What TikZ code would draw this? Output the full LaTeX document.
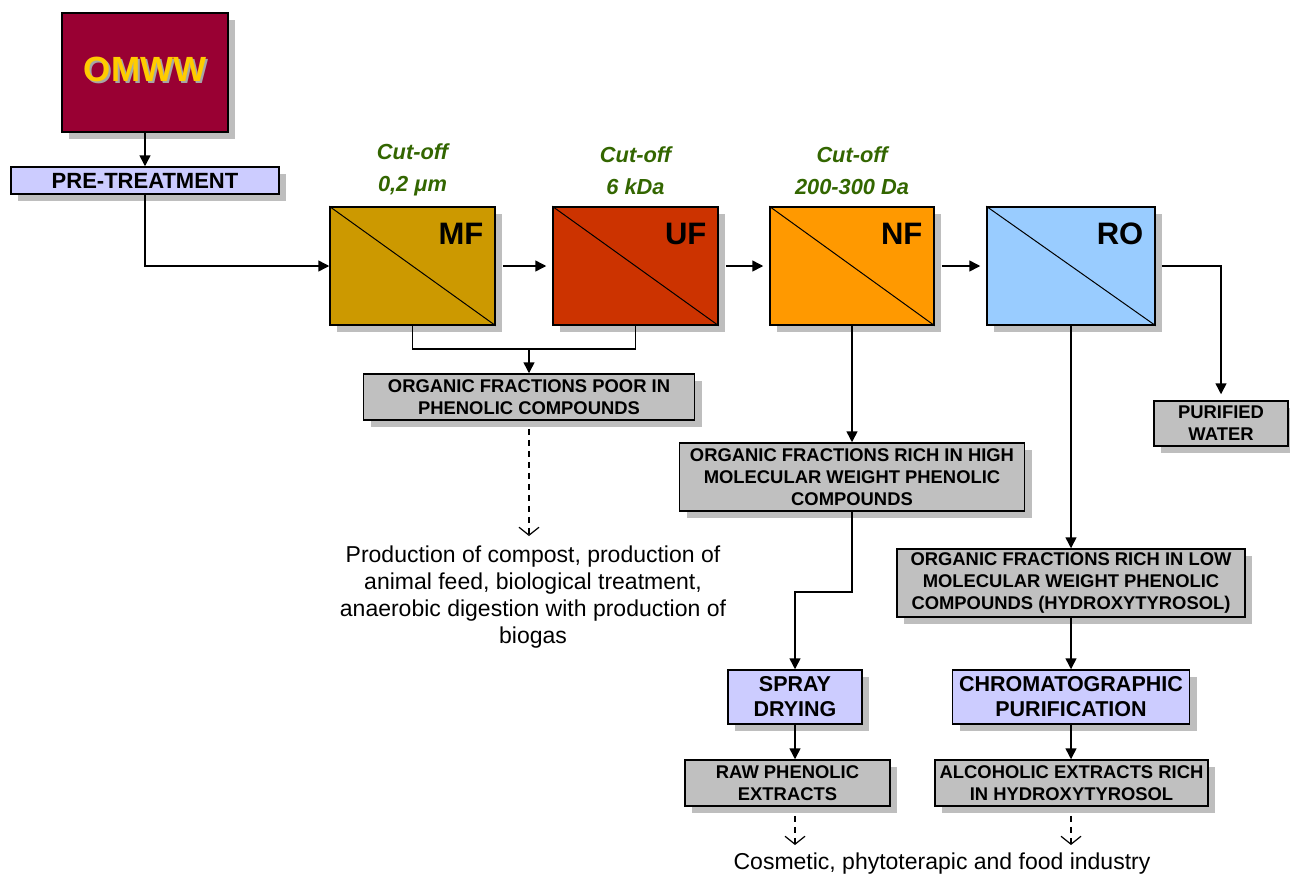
\documentclass[tikz,border=0pt]{standalone}
\usepackage[usenames,dvipsnames]{xcolor}
\usepackage{fontspec}
\setmainfont{Liberation Sans}
\usepackage{tikz}
\usetikzlibrary{shadows}
\usetikzlibrary{arrows.meta}

\begin{document}
\begin{tikzpicture}[x=0.5pt,y=-0.5pt,
  panel/.style={draw, line width=0.75pt, inner sep=0pt, align=center, drop shadow={shadow xshift=3.5pt, shadow yshift=-3.5pt, fill=shadowGrey, opacity=1}},
  greybox/.style={panel, fill=boxGrey, font=\fontsize{9.2}{11}\selectfont\bfseries},
  lilacbox/.style={panel, fill=lilac, font=\fontsize{10.75}{12.5}\selectfont\bfseries},
  membrane/.style={panel, minimum height=59pt},
  memtag/.style={inner sep=0pt, font=\fontsize{15.5}{15.5}\selectfont\bfseries},
  cutoff/.style={inner sep=0pt, align=center, text=cutGreen, font=\fontsize{10.9}{16}\selectfont\bfseries\itshape},
  usetext/.style={inner sep=0pt, align=center, font=\fontsize{11.5}{13.5}\selectfont},
  flow/.style={line width=0.75pt, -{Triangle[length=5.5pt,width=5.5pt]}},
  hint/.style={line width=0.6pt, dash pattern=on 3pt off 2.5pt, -{Straight Barb[length=4pt,width=10pt]}}]
\definecolor{omwwRed}{RGB}{153,0,51}
\definecolor{omwwGold}{RGB}{255,204,0}
\definecolor{lilac}{RGB}{204,204,255}
\definecolor{boxGrey}{RGB}{192,192,192}
\definecolor{shadowGrey}{RGB}{190,190,190}
\definecolor{mfGold}{RGB}{204,153,0}
\definecolor{ufRed}{RGB}{204,51,0}
\definecolor{nfOrange}{RGB}{255,153,0}
\definecolor{roBlue}{RGB}{153,204,255}
\definecolor{cutGreen}{RGB}{51,102,0}
\fill[white] (0,0) rectangle (1290,873);
\useasboundingbox (0,0) rectangle (1290,873);
\node[panel, fill=omwwRed, minimum width=83pt, minimum height=59.5pt] (omww) at (145,72.5) {};
\node[inner sep=0pt, text=gray!70, font=\fontsize{17.5}{17.5}\selectfont\bfseries] (omwwshade) at ([xshift=1pt,yshift=0.5pt]omww.center) {OMWW};
\node[inner sep=0pt, text=omwwGold, font=\fontsize{17.5}{17.5}\selectfont\bfseries] (omwwtitle) at ([yshift=1.5pt]omww.center) {OMWW};
\node[panel, fill=lilac, minimum width=134pt, minimum height=13.5pt, font=\fontsize{11}{11}\selectfont\bfseries] (pre) at (145,180.5) {PRE-TREATMENT};
\node[membrane, fill=mfGold, minimum width=82.5pt] (mf) at (412.5,266) {};
\node[membrane, fill=ufRed, minimum width=82.5pt] (uf) at (635.5,266) {};
\node[membrane, fill=nfOrange, minimum width=82pt] (nf) at (852,266) {};
\node[membrane, fill=roBlue, minimum width=84pt] (ro) at (1071,266) {};
\foreach \m/\t in {mf/MF,uf/UF,nf/NF,ro/RO}{
  \draw[line width=0.5pt] (\m.north west) -- (\m.south east);
  \node[memtag, anchor=east] (\m tag) at ([xshift=-6pt,yshift=-14pt]\m.north east) {\t};
}
\node[cutoff] (mfcut) at ([yshift=18pt]mf.north) {Cut-off\\0,2 μm};
\node[cutoff] (ufcut) at ([yshift=18pt]uf.north) {Cut-off\\6 kDa};
\node[cutoff] (nfcut) at ([yshift=18pt]nf.north) {Cut-off\\200-300 Da};
\node[greybox, minimum width=165.5pt, minimum height=23pt] (poor) at (529,397) {ORGANIC FRACTIONS POOR IN\\PHENOLIC COMPOUNDS};
\node[greybox, minimum width=172.5pt, minimum height=34pt] (high) at (852,477) {ORGANIC FRACTIONS RICH IN HIGH\\MOLECULAR WEIGHT PHENOLIC\\COMPOUNDS};
\node[greybox, minimum width=67pt, minimum height=22.5pt] (water) at (1221,423.5) {PURIFIED\\WATER};
\node[greybox, minimum width=174pt, minimum height=34pt] (low) at (1071,583) {ORGANIC FRACTIONS RICH IN LOW\\MOLECULAR WEIGHT PHENOLIC\\COMPOUNDS (HYDROXYTYROSOL)};
\node[lilacbox, minimum width=67pt, minimum height=27pt] (spray) at (795,697) {SPRAY\\DRYING};
\node[lilacbox, minimum width=118.5pt, minimum height=27pt] (chrom) at (1071,697) {CHROMATOGRAPHIC\\PURIFICATION};
\node[greybox, minimum width=102.5pt, minimum height=23pt] (raw) at (787.5,783) {RAW PHENOLIC\\EXTRACTS};
\node[greybox, minimum width=136.5pt, minimum height=23pt] (alc) at (1071.5,783) {ALCOHOLIC EXTRACTS RICH\\IN HYDROXYTYROSOL};
\node[usetext] (biouse) at (533,597) {Production of compost, production of\\animal feed, biological treatment,\\anaerobic digestion with production of\\biogas};
\node[usetext, anchor=base] (industry) at (942,869) {Cosmetic, phytoterapic and food industry};
\coordinate (joint) at (529,349);
\coordinate (biotip) at (529,536);
\coordinate (rawtip) at (795,845);
\coordinate (alctip) at (1071,845);
\draw[flow] (omww) -- (pre);
\draw[flow] (pre.south) |- (mf.west);
\draw[flow, shorten <=3.5pt, shorten >=3pt] (mf) -- (uf);
\draw[flow, shorten <=3.5pt, shorten >=3pt] (uf) -- (nf);
\draw[flow, shorten <=3.5pt, shorten >=3pt] (nf) -- (ro);
\draw[flow, shorten <=3pt, shorten >=3pt] (ro.east) -| (water.north);
\draw[line width=0.75pt] (mf.south) |- (joint) -| (uf.south);
\draw[flow] (joint) -- (poor.north);
\draw[flow] (nf.south) -- (high.north);
\draw[flow] (ro.south) -- (low.north);
\draw[flow] (high.south) -- ++(0,80) -| (spray.north);
\draw[flow] (low) -- (chrom);
\draw[flow] (spray.south) -- (spray.south |- raw.north);
\draw[flow] (chrom) -- (chrom.south |- alc.north);
\draw[hint, shorten <=4pt] (poor.south) -- (biotip);
\draw[hint, shorten <=4.5pt] (spray.south |- raw.south) -- (rawtip);
\draw[hint, shorten <=4.5pt] (alc.south -| chrom.south) -- (alctip);
\end{tikzpicture}
\end{document}
